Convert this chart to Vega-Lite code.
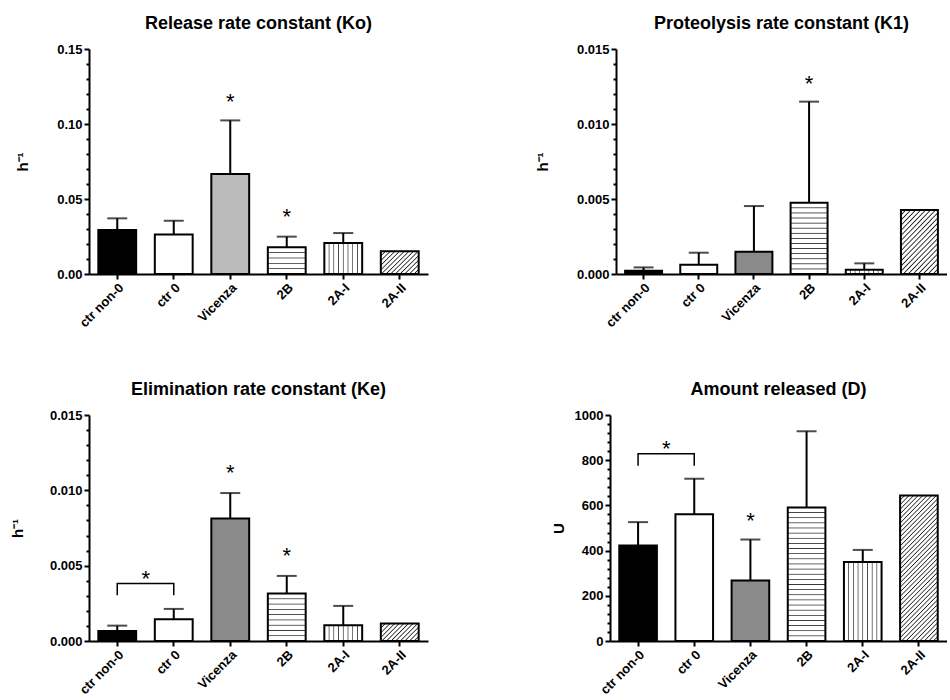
{
"$schema": "https://vega.github.io/schema/vega-lite/v6.json",
"padding": {"left": 10, "top": 15, "right": 0, "bottom": 0},
"spacing": 51,
"datasets": {
 "k0": [
  {"g":"ctr non-0","v":0.0293,"e":0.0371},
  {"g":"ctr 0","v":0.0264,"e":0.0355},
  {"g":"Vicenza","v":0.0667,"e":0.1024},
  {"g":"2B","v":0.0178,"e":0.0249},
  {"g":"2A-I","v":0.0207,"e":0.0273},
  {"g":"2A-II","v":0.0151,"e":null}
 ],
 "k0s": [{"g":"Vicenza","s":0.119},{"g":"2B","s":0.042}],
 "k1": [
  {"g":"ctr non-0","v":0.00022,"e":0.00044},
  {"g":"ctr 0","v":0.00062,"e":0.00142},
  {"g":"Vicenza","v":0.00149,"e":0.00453},
  {"g":"2B","v":0.00475,"e":0.01149},
  {"g":"2A-I","v":0.00029,"e":0.00071},
  {"g":"2A-II","v":0.00427,"e":null}
 ],
 "k1s": [{"g":"2B","s":0.01307}],
 "ke": [
  {"g":"ctr non-0","v":0.00066,"e":0.00102},
  {"g":"ctr 0","v":0.00144,"e":0.00213},
  {"g":"Vicenza","v":0.00813,"e":0.00982},
  {"g":"2B","v":0.00315,"e":0.00432},
  {"g":"2A-I","v":0.00104,"e":0.00233},
  {"g":"2A-II","v":0.00116,"e":null}
 ],
 "kes": [{"g":"Vicenza","s":0.01152},{"g":"2B","s":0.00603}],
 "keb": [{"g":"ctr non-0","v":0.00304,"o":1},{"g":"ctr non-0","v":0.00381,"o":2},{"g":"ctr 0","v":0.00381,"o":3},{"g":"ctr 0","v":0.00304,"o":4}],
 "kebs": [{"g":"ctr 0","s":0.00452}],
 "d": [
  {"g":"ctr non-0","v":423,"e":526},
  {"g":"ctr 0","v":561,"e":718},
  {"g":"Vicenza","v":268,"e":449},
  {"g":"2B","v":591,"e":928},
  {"g":"2A-I","v":350,"e":403},
  {"g":"2A-II","v":644,"e":null}
 ],
 "ds": [{"g":"Vicenza","s":557}],
 "db": [{"g":"ctr non-0","v":775,"o":1},{"g":"ctr non-0","v":829,"o":2},{"g":"ctr 0","v":829,"o":3},{"g":"ctr 0","v":775,"o":4}],
 "dbs": [{"g":"ctr 0","s":875}]
},
"vconcat": [
 {"spacing": 107, "hconcat": [
  {"width": 339, "height": 225,
   "title": {"text": "Release rate constant (Ko)"},
   "resolve": {"axis": {"y": "independent"}},
   "layer": [
    {"data": {"name": "k0"}, "mark": {"type": "bar", "stroke": "black", "strokeWidth": 2},
     "encoding": {
      "x": {"field": "g", "type": "nominal", "scale": {"domain": ["ctr non-0","ctr 0","Vicenza","2B","2A-I","2A-II"], "paddingInner": 0.33, "paddingOuter": 0.165}, "axis": {"title": null, "labelAngle": -45}},
      "y": {"field": "v", "type": "quantitative", "scale": {"domain": [0, 0.15], "nice": false}, "axis": {"values": [0, 0.05, 0.1, 0.15], "format": ".2f", "title": "h⁻¹", "titlePadding": 26}},
      "fill": {"condition": [
        {"test": "datum.g === 'ctr non-0'", "value": "black"},
        {"test": "datum.g === 'Vicenza'", "value": "#bbbbbb"},
        {"test": "datum.g === '2B'", "value": {"gradient": "linear", "x1": 0, "y1": 0, "x2": 0, "y2": 1, "stops": [
          {"offset": 0, "color": "#fff"},{"offset": 0.17, "color": "#fff"},{"offset": 0.2, "color": "#333"},{"offset": 0.23, "color": "#fff"},
          {"offset": 0.37, "color": "#fff"},{"offset": 0.4, "color": "#333"},{"offset": 0.43, "color": "#fff"},
          {"offset": 0.57, "color": "#fff"},{"offset": 0.6, "color": "#333"},{"offset": 0.63, "color": "#fff"},
          {"offset": 0.77, "color": "#fff"},{"offset": 0.8, "color": "#333"},{"offset": 0.83, "color": "#fff"},{"offset": 1, "color": "#fff"}]}},
        {"test": "datum.g === '2A-I'", "value": {"gradient": "linear", "x1": 0, "y1": 0, "x2": 1, "y2": 0, "stops": [
          {"offset": 0, "color": "#fff"},{"offset": 0.104, "color": "#fff"},{"offset": 0.125, "color": "#444"},{"offset": 0.146, "color": "#fff"},
          {"offset": 0.229, "color": "#fff"},{"offset": 0.25, "color": "#444"},{"offset": 0.271, "color": "#fff"},
          {"offset": 0.354, "color": "#fff"},{"offset": 0.375, "color": "#444"},{"offset": 0.396, "color": "#fff"},
          {"offset": 0.479, "color": "#fff"},{"offset": 0.5, "color": "#444"},{"offset": 0.521, "color": "#fff"},
          {"offset": 0.604, "color": "#fff"},{"offset": 0.625, "color": "#444"},{"offset": 0.646, "color": "#fff"},
          {"offset": 0.729, "color": "#fff"},{"offset": 0.75, "color": "#444"},{"offset": 0.771, "color": "#fff"},
          {"offset": 0.854, "color": "#fff"},{"offset": 0.875, "color": "#444"},{"offset": 0.896, "color": "#fff"},{"offset": 1, "color": "#fff"}]}},
        {"test": "datum.g === '2A-II'", "value": {"gradient": "linear", "x1": 0, "y1": 0, "x2": 1.175, "y2": 0.711, "stops": [
          {"offset": 0, "color": "#fff"},
          {"offset": 0.058, "color": "#fff"},{"offset": 0.077, "color": "#222"},{"offset": 0.096, "color": "#fff"},
          {"offset": 0.135, "color": "#fff"},{"offset": 0.154, "color": "#222"},{"offset": 0.173, "color": "#fff"},
          {"offset": 0.212, "color": "#fff"},{"offset": 0.231, "color": "#222"},{"offset": 0.25, "color": "#fff"},
          {"offset": 0.289, "color": "#fff"},{"offset": 0.308, "color": "#222"},{"offset": 0.327, "color": "#fff"},
          {"offset": 0.366, "color": "#fff"},{"offset": 0.385, "color": "#222"},{"offset": 0.404, "color": "#fff"},
          {"offset": 0.443, "color": "#fff"},{"offset": 0.462, "color": "#222"},{"offset": 0.481, "color": "#fff"},
          {"offset": 0.519, "color": "#fff"},{"offset": 0.538, "color": "#222"},{"offset": 0.557, "color": "#fff"},
          {"offset": 0.596, "color": "#fff"},{"offset": 0.615, "color": "#222"},{"offset": 0.634, "color": "#fff"},
          {"offset": 0.673, "color": "#fff"},{"offset": 0.692, "color": "#222"},{"offset": 0.711, "color": "#fff"},
          {"offset": 0.75, "color": "#fff"},{"offset": 0.769, "color": "#222"},{"offset": 0.788, "color": "#fff"},
          {"offset": 0.827, "color": "#fff"},{"offset": 0.846, "color": "#222"},{"offset": 0.865, "color": "#fff"},
          {"offset": 0.904, "color": "#fff"},{"offset": 0.923, "color": "#222"},{"offset": 0.942, "color": "#fff"},{"offset": 1, "color": "#fff"}]}}
       ], "value": "white"}
     }},
    {"data": {"name": "k0"}, "transform": [{"filter": "datum.e != null"}], "mark": {"type": "rule", "strokeWidth": 2, "color": "black"},
     "encoding": {
      "x": {"field": "g", "type": "nominal", "scale": {"domain": ["ctr non-0","ctr 0","Vicenza","2B","2A-I","2A-II"], "paddingInner": 0.33, "paddingOuter": 0.165}, "axis": {"title": null, "labelAngle": -45}},
      "y": {"field": "v", "type": "quantitative", "scale": {"domain": [0, 0.15], "nice": false}, "axis": {"orient": "left", "values": [0.01,0.02,0.03,0.04,0.06,0.07,0.08,0.09,0.11,0.12,0.13,0.14], "labels": false, "domain": false, "title": null, "tickSize": 3}},
      "y2": {"field": "e"}}},
    {"data": {"name": "k0"}, "transform": [{"filter": "datum.e != null"}], "mark": {"type": "tick", "size": 20, "thickness": 2, "color": "black"},
     "encoding": {
      "x": {"field": "g", "type": "nominal", "scale": {"domain": ["ctr non-0","ctr 0","Vicenza","2B","2A-I","2A-II"], "paddingInner": 0.33, "paddingOuter": 0.165}, "axis": {"title": null, "labelAngle": -45}},
      "y": {"field": "e", "type": "quantitative", "scale": {"domain": [0, 0.15], "nice": false}, "axis": null}}},
    {"data": {"name": "k0s"}, "mark": {"type": "text", "text": "*", "fontSize": 22, "baseline": "alphabetic", "dy": 13, "color": "black"},
     "encoding": {
      "x": {"field": "g", "type": "nominal", "scale": {"domain": ["ctr non-0","ctr 0","Vicenza","2B","2A-I","2A-II"], "paddingInner": 0.33, "paddingOuter": 0.165}, "axis": {"title": null, "labelAngle": -45}},
      "y": {"field": "s", "type": "quantitative", "scale": {"domain": [0, 0.15], "nice": false}, "axis": null}}}
   ]},
  {"width": 331, "height": 225,
   "title": {"text": "Proteolysis rate constant (K1)"},
   "resolve": {"axis": {"y": "independent"}},
   "layer": [
    {"data": {"name": "k1"}, "mark": {"type": "bar", "stroke": "black", "strokeWidth": 2},
     "encoding": {
      "x": {"field": "g", "type": "nominal", "scale": {"domain": ["ctr non-0","ctr 0","Vicenza","2B","2A-I","2A-II"], "paddingInner": 0.33, "paddingOuter": 0.165}, "axis": {"title": null, "labelAngle": -45}},
      "y": {"field": "v", "type": "quantitative", "scale": {"domain": [0, 0.015], "nice": false}, "axis": {"values": [0, 0.005, 0.01, 0.015], "format": ".3f", "title": "h⁻¹", "titlePadding": 26}},
      "fill": {"condition": [
        {"test": "datum.g === 'ctr non-0'", "value": "black"},
        {"test": "datum.g === 'Vicenza'", "value": "#8a8a8a"},
        {"test": "datum.g === '2B'", "value": {"gradient": "linear", "x1": 0, "y1": 0, "x2": 0, "y2": 1, "stops": [
          {"offset": 0, "color": "#fff"},
          {"offset": 0.059, "color": "#fff"},{"offset": 0.071, "color": "#333"},{"offset": 0.083, "color": "#fff"},
          {"offset": 0.131, "color": "#fff"},{"offset": 0.143, "color": "#333"},{"offset": 0.155, "color": "#fff"},
          {"offset": 0.202, "color": "#fff"},{"offset": 0.214, "color": "#333"},{"offset": 0.226, "color": "#fff"},
          {"offset": 0.274, "color": "#fff"},{"offset": 0.286, "color": "#333"},{"offset": 0.298, "color": "#fff"},
          {"offset": 0.345, "color": "#fff"},{"offset": 0.357, "color": "#333"},{"offset": 0.369, "color": "#fff"},
          {"offset": 0.417, "color": "#fff"},{"offset": 0.429, "color": "#333"},{"offset": 0.441, "color": "#fff"},
          {"offset": 0.488, "color": "#fff"},{"offset": 0.5, "color": "#333"},{"offset": 0.512, "color": "#fff"},
          {"offset": 0.559, "color": "#fff"},{"offset": 0.571, "color": "#333"},{"offset": 0.583, "color": "#fff"},
          {"offset": 0.631, "color": "#fff"},{"offset": 0.643, "color": "#333"},{"offset": 0.655, "color": "#fff"},
          {"offset": 0.702, "color": "#fff"},{"offset": 0.714, "color": "#333"},{"offset": 0.726, "color": "#fff"},
          {"offset": 0.774, "color": "#fff"},{"offset": 0.786, "color": "#333"},{"offset": 0.798, "color": "#fff"},
          {"offset": 0.845, "color": "#fff"},{"offset": 0.857, "color": "#333"},{"offset": 0.869, "color": "#fff"},
          {"offset": 0.917, "color": "#fff"},{"offset": 0.929, "color": "#333"},{"offset": 0.941, "color": "#fff"},{"offset": 1, "color": "#fff"}]}},
        {"test": "datum.g === '2A-I'", "value": {"gradient": "linear", "x1": 0, "y1": 0, "x2": 1, "y2": 0, "stops": [
          {"offset": 0, "color": "#fff"},{"offset": 0.104, "color": "#fff"},{"offset": 0.125, "color": "#444"},{"offset": 0.146, "color": "#fff"},
          {"offset": 0.229, "color": "#fff"},{"offset": 0.25, "color": "#444"},{"offset": 0.271, "color": "#fff"},
          {"offset": 0.354, "color": "#fff"},{"offset": 0.375, "color": "#444"},{"offset": 0.396, "color": "#fff"},
          {"offset": 0.479, "color": "#fff"},{"offset": 0.5, "color": "#444"},{"offset": 0.521, "color": "#fff"},
          {"offset": 0.604, "color": "#fff"},{"offset": 0.625, "color": "#444"},{"offset": 0.646, "color": "#fff"},
          {"offset": 0.729, "color": "#fff"},{"offset": 0.75, "color": "#444"},{"offset": 0.771, "color": "#fff"},
          {"offset": 0.854, "color": "#fff"},{"offset": 0.875, "color": "#444"},{"offset": 0.896, "color": "#fff"},{"offset": 1, "color": "#fff"}]}},
        {"test": "datum.g === '2A-II'", "value": {"gradient": "linear", "x1": 0, "y1": 0, "x2": 0.7, "y2": 1.179, "stops": [
          {"offset": 0, "color": "#fff"},
          {"offset": 0.0375, "color": "#fff"},{"offset": 0.05, "color": "#222"},{"offset": 0.0625, "color": "#fff"},
          {"offset": 0.0875, "color": "#fff"},{"offset": 0.1, "color": "#222"},{"offset": 0.1125, "color": "#fff"},
          {"offset": 0.1375, "color": "#fff"},{"offset": 0.15, "color": "#222"},{"offset": 0.1625, "color": "#fff"},
          {"offset": 0.1875, "color": "#fff"},{"offset": 0.2, "color": "#222"},{"offset": 0.2125, "color": "#fff"},
          {"offset": 0.2375, "color": "#fff"},{"offset": 0.25, "color": "#222"},{"offset": 0.2625, "color": "#fff"},
          {"offset": 0.2875, "color": "#fff"},{"offset": 0.3, "color": "#222"},{"offset": 0.3125, "color": "#fff"},
          {"offset": 0.3375, "color": "#fff"},{"offset": 0.35, "color": "#222"},{"offset": 0.3625, "color": "#fff"},
          {"offset": 0.3875, "color": "#fff"},{"offset": 0.4, "color": "#222"},{"offset": 0.4125, "color": "#fff"},
          {"offset": 0.4375, "color": "#fff"},{"offset": 0.45, "color": "#222"},{"offset": 0.4625, "color": "#fff"},
          {"offset": 0.4875, "color": "#fff"},{"offset": 0.5, "color": "#222"},{"offset": 0.5125, "color": "#fff"},
          {"offset": 0.5375, "color": "#fff"},{"offset": 0.55, "color": "#222"},{"offset": 0.5625, "color": "#fff"},
          {"offset": 0.5875, "color": "#fff"},{"offset": 0.6, "color": "#222"},{"offset": 0.6125, "color": "#fff"},
          {"offset": 0.6375, "color": "#fff"},{"offset": 0.65, "color": "#222"},{"offset": 0.6625, "color": "#fff"},
          {"offset": 0.6875, "color": "#fff"},{"offset": 0.7, "color": "#222"},{"offset": 0.7125, "color": "#fff"},
          {"offset": 0.7375, "color": "#fff"},{"offset": 0.75, "color": "#222"},{"offset": 0.7625, "color": "#fff"},
          {"offset": 0.7875, "color": "#fff"},{"offset": 0.8, "color": "#222"},{"offset": 0.8125, "color": "#fff"},
          {"offset": 0.8375, "color": "#fff"},{"offset": 0.85, "color": "#222"},{"offset": 0.8625, "color": "#fff"},
          {"offset": 0.8875, "color": "#fff"},{"offset": 0.9, "color": "#222"},{"offset": 0.9125, "color": "#fff"},
          {"offset": 0.9375, "color": "#fff"},{"offset": 0.95, "color": "#222"},{"offset": 0.9625, "color": "#fff"},{"offset": 1, "color": "#fff"}]}}
       ], "value": "white"}
     }},
    {"data": {"name": "k1"}, "transform": [{"filter": "datum.e != null"}], "mark": {"type": "rule", "strokeWidth": 2, "color": "black"},
     "encoding": {
      "x": {"field": "g", "type": "nominal", "scale": {"domain": ["ctr non-0","ctr 0","Vicenza","2B","2A-I","2A-II"], "paddingInner": 0.33, "paddingOuter": 0.165}, "axis": {"title": null, "labelAngle": -45}},
      "y": {"field": "v", "type": "quantitative", "scale": {"domain": [0, 0.015], "nice": false}, "axis": {"orient": "left", "values": [0.001,0.002,0.003,0.004,0.006,0.007,0.008,0.009,0.011,0.012,0.013,0.014], "labels": false, "domain": false, "title": null, "tickSize": 3}},
      "y2": {"field": "e"}}},
    {"data": {"name": "k1"}, "transform": [{"filter": "datum.e != null"}], "mark": {"type": "tick", "size": 20, "thickness": 2, "color": "black"},
     "encoding": {
      "x": {"field": "g", "type": "nominal", "scale": {"domain": ["ctr non-0","ctr 0","Vicenza","2B","2A-I","2A-II"], "paddingInner": 0.33, "paddingOuter": 0.165}, "axis": {"title": null, "labelAngle": -45}},
      "y": {"field": "e", "type": "quantitative", "scale": {"domain": [0, 0.015], "nice": false}, "axis": null}}},
    {"data": {"name": "k1s"}, "mark": {"type": "text", "text": "*", "fontSize": 22, "baseline": "alphabetic", "dy": 13, "color": "black"},
     "encoding": {
      "x": {"field": "g", "type": "nominal", "scale": {"domain": ["ctr non-0","ctr 0","Vicenza","2B","2A-I","2A-II"], "paddingInner": 0.33, "paddingOuter": 0.165}, "axis": {"title": null, "labelAngle": -45}},
      "y": {"field": "s", "type": "quantitative", "scale": {"domain": [0, 0.015], "nice": false}, "axis": null}}}
   ]}
 ]},
 {"spacing": 123, "hconcat": [
  {"width": 339, "height": 226,
   "title": {"text": "Elimination rate constant (Ke)"},
   "resolve": {"axis": {"y": "independent"}},
   "layer": [
    {"data": {"name": "ke"}, "mark": {"type": "bar", "stroke": "black", "strokeWidth": 2},
     "encoding": {
      "x": {"field": "g", "type": "nominal", "scale": {"domain": ["ctr non-0","ctr 0","Vicenza","2B","2A-I","2A-II"], "paddingInner": 0.33, "paddingOuter": 0.165}, "axis": {"title": null, "labelAngle": -45}},
      "y": {"field": "v", "type": "quantitative", "scale": {"domain": [0, 0.015], "nice": false}, "axis": {"values": [0, 0.005, 0.01, 0.015], "format": ".3f", "title": "h⁻¹", "titlePadding": 24}},
      "fill": {"condition": [
        {"test": "datum.g === 'ctr non-0'", "value": "black"},
        {"test": "datum.g === 'Vicenza'", "value": "#8a8a8a"},
        {"test": "datum.g === '2B'", "value": {"gradient": "linear", "x1": 0, "y1": 0, "x2": 0, "y2": 1, "stops": [
          {"offset": 0, "color": "#fff"},
          {"offset": 0.094, "color": "#fff"},{"offset": 0.111, "color": "#333"},{"offset": 0.128, "color": "#fff"},
          {"offset": 0.205, "color": "#fff"},{"offset": 0.222, "color": "#333"},{"offset": 0.239, "color": "#fff"},
          {"offset": 0.316, "color": "#fff"},{"offset": 0.333, "color": "#333"},{"offset": 0.35, "color": "#fff"},
          {"offset": 0.427, "color": "#fff"},{"offset": 0.444, "color": "#333"},{"offset": 0.461, "color": "#fff"},
          {"offset": 0.539, "color": "#fff"},{"offset": 0.556, "color": "#333"},{"offset": 0.573, "color": "#fff"},
          {"offset": 0.65, "color": "#fff"},{"offset": 0.667, "color": "#333"},{"offset": 0.684, "color": "#fff"},
          {"offset": 0.761, "color": "#fff"},{"offset": 0.778, "color": "#333"},{"offset": 0.795, "color": "#fff"},
          {"offset": 0.872, "color": "#fff"},{"offset": 0.889, "color": "#333"},{"offset": 0.906, "color": "#fff"},{"offset": 1, "color": "#fff"}]}},
        {"test": "datum.g === '2A-I'", "value": {"gradient": "linear", "x1": 0, "y1": 0, "x2": 1, "y2": 0, "stops": [
          {"offset": 0, "color": "#fff"},{"offset": 0.104, "color": "#fff"},{"offset": 0.125, "color": "#444"},{"offset": 0.146, "color": "#fff"},
          {"offset": 0.229, "color": "#fff"},{"offset": 0.25, "color": "#444"},{"offset": 0.271, "color": "#fff"},
          {"offset": 0.354, "color": "#fff"},{"offset": 0.375, "color": "#444"},{"offset": 0.396, "color": "#fff"},
          {"offset": 0.479, "color": "#fff"},{"offset": 0.5, "color": "#444"},{"offset": 0.521, "color": "#fff"},
          {"offset": 0.604, "color": "#fff"},{"offset": 0.625, "color": "#444"},{"offset": 0.646, "color": "#fff"},
          {"offset": 0.729, "color": "#fff"},{"offset": 0.75, "color": "#444"},{"offset": 0.771, "color": "#fff"},
          {"offset": 0.854, "color": "#fff"},{"offset": 0.875, "color": "#444"},{"offset": 0.896, "color": "#fff"},{"offset": 1, "color": "#fff"}]}},
        {"test": "datum.g === '2A-II'", "value": {"gradient": "linear", "x1": 0, "y1": 0, "x2": 1.205, "y2": 0.554, "stops": [
          {"offset": 0, "color": "#fff"},
          {"offset": 0.062, "color": "#fff"},{"offset": 0.083, "color": "#222"},{"offset": 0.104, "color": "#fff"},
          {"offset": 0.146, "color": "#fff"},{"offset": 0.167, "color": "#222"},{"offset": 0.188, "color": "#fff"},
          {"offset": 0.229, "color": "#fff"},{"offset": 0.25, "color": "#222"},{"offset": 0.271, "color": "#fff"},
          {"offset": 0.312, "color": "#fff"},{"offset": 0.333, "color": "#222"},{"offset": 0.354, "color": "#fff"},
          {"offset": 0.396, "color": "#fff"},{"offset": 0.417, "color": "#222"},{"offset": 0.438, "color": "#fff"},
          {"offset": 0.479, "color": "#fff"},{"offset": 0.5, "color": "#222"},{"offset": 0.521, "color": "#fff"},
          {"offset": 0.562, "color": "#fff"},{"offset": 0.583, "color": "#222"},{"offset": 0.604, "color": "#fff"},
          {"offset": 0.646, "color": "#fff"},{"offset": 0.667, "color": "#222"},{"offset": 0.688, "color": "#fff"},
          {"offset": 0.729, "color": "#fff"},{"offset": 0.75, "color": "#222"},{"offset": 0.771, "color": "#fff"},
          {"offset": 0.812, "color": "#fff"},{"offset": 0.833, "color": "#222"},{"offset": 0.854, "color": "#fff"},
          {"offset": 0.896, "color": "#fff"},{"offset": 0.917, "color": "#222"},{"offset": 0.938, "color": "#fff"},{"offset": 1, "color": "#fff"}]}}
       ], "value": "white"}
     }},
    {"data": {"name": "ke"}, "transform": [{"filter": "datum.e != null"}], "mark": {"type": "rule", "strokeWidth": 2, "color": "black"},
     "encoding": {
      "x": {"field": "g", "type": "nominal", "scale": {"domain": ["ctr non-0","ctr 0","Vicenza","2B","2A-I","2A-II"], "paddingInner": 0.33, "paddingOuter": 0.165}, "axis": {"title": null, "labelAngle": -45}},
      "y": {"field": "v", "type": "quantitative", "scale": {"domain": [0, 0.015], "nice": false}, "axis": {"orient": "left", "values": [0.001,0.002,0.003,0.004,0.006,0.007,0.008,0.009,0.011,0.012,0.013,0.014], "labels": false, "domain": false, "title": null, "tickSize": 3}},
      "y2": {"field": "e"}}},
    {"data": {"name": "ke"}, "transform": [{"filter": "datum.e != null"}], "mark": {"type": "tick", "size": 20, "thickness": 2, "color": "black"},
     "encoding": {
      "x": {"field": "g", "type": "nominal", "scale": {"domain": ["ctr non-0","ctr 0","Vicenza","2B","2A-I","2A-II"], "paddingInner": 0.33, "paddingOuter": 0.165}, "axis": {"title": null, "labelAngle": -45}},
      "y": {"field": "e", "type": "quantitative", "scale": {"domain": [0, 0.015], "nice": false}, "axis": null}}},
    {"data": {"name": "kes"}, "mark": {"type": "text", "text": "*", "fontSize": 22, "baseline": "alphabetic", "dy": 13, "color": "black"},
     "encoding": {
      "x": {"field": "g", "type": "nominal", "scale": {"domain": ["ctr non-0","ctr 0","Vicenza","2B","2A-I","2A-II"], "paddingInner": 0.33, "paddingOuter": 0.165}, "axis": {"title": null, "labelAngle": -45}},
      "y": {"field": "s", "type": "quantitative", "scale": {"domain": [0, 0.015], "nice": false}, "axis": null}}},
    {"data": {"name": "keb"}, "mark": {"type": "line", "strokeWidth": 1.5, "color": "black"},
     "encoding": {
      "x": {"field": "g", "type": "nominal", "scale": {"domain": ["ctr non-0","ctr 0","Vicenza","2B","2A-I","2A-II"], "paddingInner": 0.33, "paddingOuter": 0.165}, "axis": {"title": null, "labelAngle": -45}},
      "y": {"field": "v", "type": "quantitative", "scale": {"domain": [0, 0.015], "nice": false}, "axis": null},
      "order": {"field": "o"}}},
    {"data": {"name": "kebs"}, "mark": {"type": "text", "text": "*", "fontSize": 22, "baseline": "alphabetic", "dy": 13, "dx": -28, "color": "black"},
     "encoding": {
      "x": {"field": "g", "type": "nominal", "scale": {"domain": ["ctr non-0","ctr 0","Vicenza","2B","2A-I","2A-II"], "paddingInner": 0.33, "paddingOuter": 0.165}, "axis": {"title": null, "labelAngle": -45}},
      "y": {"field": "s", "type": "quantitative", "scale": {"domain": [0, 0.015], "nice": false}, "axis": null}}}
   ]},
  {"width": 337, "height": 226,
   "title": {"text": "Amount released (D)"},
   "resolve": {"axis": {"y": "independent"}},
   "layer": [
    {"data": {"name": "d"}, "mark": {"type": "bar", "stroke": "black", "strokeWidth": 2},
     "encoding": {
      "x": {"field": "g", "type": "nominal", "scale": {"domain": ["ctr non-0","ctr 0","Vicenza","2B","2A-I","2A-II"], "paddingInner": 0.33, "paddingOuter": 0.165}, "axis": {"title": null, "labelAngle": -45}},
      "y": {"field": "v", "type": "quantitative", "scale": {"domain": [0, 1000], "nice": false}, "axis": {"values": [0, 200, 400, 600, 800, 1000], "format": "d", "title": "U", "titlePadding": 8}},
      "fill": {"condition": [
        {"test": "datum.g === 'ctr non-0'", "value": "black"},
        {"test": "datum.g === 'Vicenza'", "value": "#8a8a8a"},
        {"test": "datum.g === '2B'", "value": {"gradient": "linear", "x1": 0, "y1": 0, "x2": 0, "y2": 1, "stops": [
          {"offset": 0, "color": "#fff"},
          {"offset": 0.0325, "color": "#fff"},{"offset": 0.0385, "color": "#333"},{"offset": 0.0445, "color": "#fff"},
          {"offset": 0.0709, "color": "#fff"},{"offset": 0.0769, "color": "#333"},{"offset": 0.0829, "color": "#fff"},
          {"offset": 0.1094, "color": "#fff"},{"offset": 0.1154, "color": "#333"},{"offset": 0.1214, "color": "#fff"},
          {"offset": 0.1478, "color": "#fff"},{"offset": 0.1538, "color": "#333"},{"offset": 0.1598, "color": "#fff"},
          {"offset": 0.1863, "color": "#fff"},{"offset": 0.1923, "color": "#333"},{"offset": 0.1983, "color": "#fff"},
          {"offset": 0.2248, "color": "#fff"},{"offset": 0.2308, "color": "#333"},{"offset": 0.2368, "color": "#fff"},
          {"offset": 0.2632, "color": "#fff"},{"offset": 0.2692, "color": "#333"},{"offset": 0.2752, "color": "#fff"},
          {"offset": 0.3017, "color": "#fff"},{"offset": 0.3077, "color": "#333"},{"offset": 0.3137, "color": "#fff"},
          {"offset": 0.3402, "color": "#fff"},{"offset": 0.3462, "color": "#333"},{"offset": 0.3522, "color": "#fff"},
          {"offset": 0.3786, "color": "#fff"},{"offset": 0.3846, "color": "#333"},{"offset": 0.3906, "color": "#fff"},
          {"offset": 0.4171, "color": "#fff"},{"offset": 0.4231, "color": "#333"},{"offset": 0.4291, "color": "#fff"},
          {"offset": 0.4555, "color": "#fff"},{"offset": 0.4615, "color": "#333"},{"offset": 0.4675, "color": "#fff"},
          {"offset": 0.494, "color": "#fff"},{"offset": 0.5, "color": "#333"},{"offset": 0.506, "color": "#fff"},
          {"offset": 0.5325, "color": "#fff"},{"offset": 0.5385, "color": "#333"},{"offset": 0.5445, "color": "#fff"},
          {"offset": 0.5709, "color": "#fff"},{"offset": 0.5769, "color": "#333"},{"offset": 0.5829, "color": "#fff"},
          {"offset": 0.6094, "color": "#fff"},{"offset": 0.6154, "color": "#333"},{"offset": 0.6214, "color": "#fff"},
          {"offset": 0.6478, "color": "#fff"},{"offset": 0.6538, "color": "#333"},{"offset": 0.6598, "color": "#fff"},
          {"offset": 0.6863, "color": "#fff"},{"offset": 0.6923, "color": "#333"},{"offset": 0.6983, "color": "#fff"},
          {"offset": 0.7248, "color": "#fff"},{"offset": 0.7308, "color": "#333"},{"offset": 0.7368, "color": "#fff"},
          {"offset": 0.7632, "color": "#fff"},{"offset": 0.7692, "color": "#333"},{"offset": 0.7752, "color": "#fff"},
          {"offset": 0.8017, "color": "#fff"},{"offset": 0.8077, "color": "#333"},{"offset": 0.8137, "color": "#fff"},
          {"offset": 0.8402, "color": "#fff"},{"offset": 0.8462, "color": "#333"},{"offset": 0.8522, "color": "#fff"},
          {"offset": 0.8786, "color": "#fff"},{"offset": 0.8846, "color": "#333"},{"offset": 0.8906, "color": "#fff"},
          {"offset": 0.9171, "color": "#fff"},{"offset": 0.9231, "color": "#333"},{"offset": 0.9291, "color": "#fff"},
          {"offset": 0.9555, "color": "#fff"},{"offset": 0.9615, "color": "#333"},{"offset": 0.9675, "color": "#fff"},{"offset": 1, "color": "#fff"}]}},
        {"test": "datum.g === '2A-I'", "value": {"gradient": "linear", "x1": 0, "y1": 0, "x2": 1, "y2": 0, "stops": [
          {"offset": 0, "color": "#fff"},{"offset": 0.104, "color": "#fff"},{"offset": 0.125, "color": "#444"},{"offset": 0.146, "color": "#fff"},
          {"offset": 0.229, "color": "#fff"},{"offset": 0.25, "color": "#444"},{"offset": 0.271, "color": "#fff"},
          {"offset": 0.354, "color": "#fff"},{"offset": 0.375, "color": "#444"},{"offset": 0.396, "color": "#fff"},
          {"offset": 0.479, "color": "#fff"},{"offset": 0.5, "color": "#444"},{"offset": 0.521, "color": "#fff"},
          {"offset": 0.604, "color": "#fff"},{"offset": 0.625, "color": "#444"},{"offset": 0.646, "color": "#fff"},
          {"offset": 0.729, "color": "#fff"},{"offset": 0.75, "color": "#444"},{"offset": 0.771, "color": "#fff"},
          {"offset": 0.854, "color": "#fff"},{"offset": 0.875, "color": "#444"},{"offset": 0.896, "color": "#fff"},{"offset": 1, "color": "#fff"}]}},
        {"test": "datum.g === '2A-II'", "value": {"gradient": "linear", "x1": 0, "y1": 0, "x2": 0.309, "y2": 1.181, "stops": [
          {"offset": 0, "color": "#fff"},
          {"offset": 0.019, "color": "#fff"},{"offset": 0.025, "color": "#222"},{"offset": 0.031, "color": "#fff"},
          {"offset": 0.044, "color": "#fff"},{"offset": 0.05, "color": "#222"},{"offset": 0.056, "color": "#fff"},
          {"offset": 0.069, "color": "#fff"},{"offset": 0.075, "color": "#222"},{"offset": 0.081, "color": "#fff"},
          {"offset": 0.094, "color": "#fff"},{"offset": 0.1, "color": "#222"},{"offset": 0.106, "color": "#fff"},
          {"offset": 0.119, "color": "#fff"},{"offset": 0.125, "color": "#222"},{"offset": 0.131, "color": "#fff"},
          {"offset": 0.144, "color": "#fff"},{"offset": 0.15, "color": "#222"},{"offset": 0.156, "color": "#fff"},
          {"offset": 0.169, "color": "#fff"},{"offset": 0.175, "color": "#222"},{"offset": 0.181, "color": "#fff"},
          {"offset": 0.194, "color": "#fff"},{"offset": 0.2, "color": "#222"},{"offset": 0.206, "color": "#fff"},
          {"offset": 0.219, "color": "#fff"},{"offset": 0.225, "color": "#222"},{"offset": 0.231, "color": "#fff"},
          {"offset": 0.244, "color": "#fff"},{"offset": 0.25, "color": "#222"},{"offset": 0.256, "color": "#fff"},
          {"offset": 0.269, "color": "#fff"},{"offset": 0.275, "color": "#222"},{"offset": 0.281, "color": "#fff"},
          {"offset": 0.294, "color": "#fff"},{"offset": 0.3, "color": "#222"},{"offset": 0.306, "color": "#fff"},
          {"offset": 0.319, "color": "#fff"},{"offset": 0.325, "color": "#222"},{"offset": 0.331, "color": "#fff"},
          {"offset": 0.344, "color": "#fff"},{"offset": 0.35, "color": "#222"},{"offset": 0.356, "color": "#fff"},
          {"offset": 0.369, "color": "#fff"},{"offset": 0.375, "color": "#222"},{"offset": 0.381, "color": "#fff"},
          {"offset": 0.394, "color": "#fff"},{"offset": 0.4, "color": "#222"},{"offset": 0.406, "color": "#fff"},
          {"offset": 0.419, "color": "#fff"},{"offset": 0.425, "color": "#222"},{"offset": 0.431, "color": "#fff"},
          {"offset": 0.444, "color": "#fff"},{"offset": 0.45, "color": "#222"},{"offset": 0.456, "color": "#fff"},
          {"offset": 0.469, "color": "#fff"},{"offset": 0.475, "color": "#222"},{"offset": 0.481, "color": "#fff"},
          {"offset": 0.494, "color": "#fff"},{"offset": 0.5, "color": "#222"},{"offset": 0.506, "color": "#fff"},
          {"offset": 0.519, "color": "#fff"},{"offset": 0.525, "color": "#222"},{"offset": 0.531, "color": "#fff"},
          {"offset": 0.544, "color": "#fff"},{"offset": 0.55, "color": "#222"},{"offset": 0.556, "color": "#fff"},
          {"offset": 0.569, "color": "#fff"},{"offset": 0.575, "color": "#222"},{"offset": 0.581, "color": "#fff"},
          {"offset": 0.594, "color": "#fff"},{"offset": 0.6, "color": "#222"},{"offset": 0.606, "color": "#fff"},
          {"offset": 0.619, "color": "#fff"},{"offset": 0.625, "color": "#222"},{"offset": 0.631, "color": "#fff"},
          {"offset": 0.644, "color": "#fff"},{"offset": 0.65, "color": "#222"},{"offset": 0.656, "color": "#fff"},
          {"offset": 0.669, "color": "#fff"},{"offset": 0.675, "color": "#222"},{"offset": 0.681, "color": "#fff"},
          {"offset": 0.694, "color": "#fff"},{"offset": 0.7, "color": "#222"},{"offset": 0.706, "color": "#fff"},
          {"offset": 0.719, "color": "#fff"},{"offset": 0.725, "color": "#222"},{"offset": 0.731, "color": "#fff"},
          {"offset": 0.744, "color": "#fff"},{"offset": 0.75, "color": "#222"},{"offset": 0.756, "color": "#fff"},
          {"offset": 0.769, "color": "#fff"},{"offset": 0.775, "color": "#222"},{"offset": 0.781, "color": "#fff"},
          {"offset": 0.794, "color": "#fff"},{"offset": 0.8, "color": "#222"},{"offset": 0.806, "color": "#fff"},
          {"offset": 0.819, "color": "#fff"},{"offset": 0.825, "color": "#222"},{"offset": 0.831, "color": "#fff"},
          {"offset": 0.844, "color": "#fff"},{"offset": 0.85, "color": "#222"},{"offset": 0.856, "color": "#fff"},
          {"offset": 0.869, "color": "#fff"},{"offset": 0.875, "color": "#222"},{"offset": 0.881, "color": "#fff"},
          {"offset": 0.894, "color": "#fff"},{"offset": 0.9, "color": "#222"},{"offset": 0.906, "color": "#fff"},
          {"offset": 0.919, "color": "#fff"},{"offset": 0.925, "color": "#222"},{"offset": 0.931, "color": "#fff"},
          {"offset": 0.944, "color": "#fff"},{"offset": 0.95, "color": "#222"},{"offset": 0.956, "color": "#fff"},
          {"offset": 0.969, "color": "#fff"},{"offset": 0.975, "color": "#222"},{"offset": 0.981, "color": "#fff"},{"offset": 1, "color": "#fff"}]}}
       ], "value": "white"}
     }},
    {"data": {"name": "d"}, "transform": [{"filter": "datum.e != null"}], "mark": {"type": "rule", "strokeWidth": 2, "color": "black"},
     "encoding": {
      "x": {"field": "g", "type": "nominal", "scale": {"domain": ["ctr non-0","ctr 0","Vicenza","2B","2A-I","2A-II"], "paddingInner": 0.33, "paddingOuter": 0.165}, "axis": {"title": null, "labelAngle": -45}},
      "y": {"field": "v", "type": "quantitative", "scale": {"domain": [0, 1000], "nice": false}, "axis": {"orient": "left", "values": [40,80,120,160,240,280,320,360,440,480,520,560,640,680,720,760,840,880,920,960], "labels": false, "domain": false, "title": null, "tickSize": 3}},
      "y2": {"field": "e"}}},
    {"data": {"name": "d"}, "transform": [{"filter": "datum.e != null"}], "mark": {"type": "tick", "size": 20, "thickness": 2, "color": "black"},
     "encoding": {
      "x": {"field": "g", "type": "nominal", "scale": {"domain": ["ctr non-0","ctr 0","Vicenza","2B","2A-I","2A-II"], "paddingInner": 0.33, "paddingOuter": 0.165}, "axis": {"title": null, "labelAngle": -45}},
      "y": {"field": "e", "type": "quantitative", "scale": {"domain": [0, 1000], "nice": false}, "axis": null}}},
    {"data": {"name": "ds"}, "mark": {"type": "text", "text": "*", "fontSize": 22, "baseline": "alphabetic", "dy": 13, "color": "black"},
     "encoding": {
      "x": {"field": "g", "type": "nominal", "scale": {"domain": ["ctr non-0","ctr 0","Vicenza","2B","2A-I","2A-II"], "paddingInner": 0.33, "paddingOuter": 0.165}, "axis": {"title": null, "labelAngle": -45}},
      "y": {"field": "s", "type": "quantitative", "scale": {"domain": [0, 1000], "nice": false}, "axis": null}}},
    {"data": {"name": "db"}, "mark": {"type": "line", "strokeWidth": 1.5, "color": "black"},
     "encoding": {
      "x": {"field": "g", "type": "nominal", "scale": {"domain": ["ctr non-0","ctr 0","Vicenza","2B","2A-I","2A-II"], "paddingInner": 0.33, "paddingOuter": 0.165}, "axis": {"title": null, "labelAngle": -45}},
      "y": {"field": "v", "type": "quantitative", "scale": {"domain": [0, 1000], "nice": false}, "axis": null},
      "order": {"field": "o"}}},
    {"data": {"name": "dbs"}, "mark": {"type": "text", "text": "*", "fontSize": 22, "baseline": "alphabetic", "dy": 13, "dx": -28, "color": "black"},
     "encoding": {
      "x": {"field": "g", "type": "nominal", "scale": {"domain": ["ctr non-0","ctr 0","Vicenza","2B","2A-I","2A-II"], "paddingInner": 0.33, "paddingOuter": 0.165}, "axis": {"title": null, "labelAngle": -45}},
      "y": {"field": "s", "type": "quantitative", "scale": {"domain": [0, 1000], "nice": false}, "axis": null}}}
   ]}
 ]}
],
"config": {
 "view": {"stroke": null},
 "font": "Liberation Sans",
 "axis": {"domainColor": "black", "domainWidth": 2, "tickColor": "black", "tickWidth": 2, "tickSize": 5, "grid": false,
  "labelFont": "Liberation Sans", "labelFontWeight": "bold", "labelFontSize": 13, "labelColor": "black", "labelPadding": 2,
  "titleFont": "Liberation Sans", "titleFontWeight": "bold", "titleFontSize": 15, "titleColor": "black"},
 "title": {"font": "Liberation Sans", "fontSize": 18, "fontWeight": "bold", "color": "black", "anchor": "middle", "frame": "group", "offset": 10}
}
}
